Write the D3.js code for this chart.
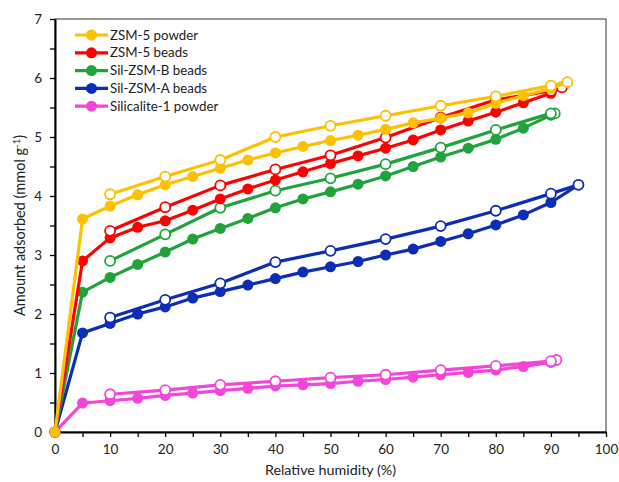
<!DOCTYPE html>
<html>
<head>
<meta charset="utf-8">
<script src="https://cdn.jsdelivr.net/npm/d3@7"></script>
<style>
  body { margin: 0; background: #fff; }
  text { font-family: Lato, "Open Sans", sans-serif; fill: #222; }
</style>
</head>
<body>
<div id="chart"></div>
<script>
// relative humidity (%) for each curve
const adsRH = [0, 5, 10, 15, 20, 25, 30, 35, 40, 45, 50, 55, 60, 65, 70, 75, 80, 85, 90];
const desRH = [90, 80, 70, 60, 50, 40, 30, 20, 10];

// adsorption branches (filled markers)
const zsmPowderAds = [0, 3.61, 3.83, 4.02, 4.19, 4.33, 4.47, 4.61, 4.73, 4.84, 4.94, 5.03, 5.13, 5.24, 5.32, 5.41, 5.57, 5.70, 5.82];
const zsmBeadsAds  = [0, 2.90, 3.29, 3.47, 3.58, 3.76, 3.95, 4.12, 4.27, 4.41, 4.55, 4.68, 4.81, 4.95, 5.12, 5.27, 5.42, 5.58, 5.74];
const silBAds      = [0, 2.37, 2.62, 2.84, 3.05, 3.27, 3.45, 3.62, 3.80, 3.95, 4.07, 4.20, 4.34, 4.50, 4.66, 4.81, 4.96, 5.15, 5.37];
const silAAds      = [0, 1.68, 1.84, 2.00, 2.12, 2.27, 2.38, 2.49, 2.60, 2.71, 2.80, 2.89, 3.00, 3.10, 3.23, 3.36, 3.51, 3.68, 3.89];
const silicaliteAds= [0, 0.49, 0.53, 0.57, 0.62, 0.66, 0.70, 0.74, 0.78, 0.80, 0.82, 0.86, 0.89, 0.93, 0.97, 1.01, 1.05, 1.11, 1.18];

// top point where adsorption turns into desorption
const topRH  = [93, 92, 90.7, 95, 91];
const topVal = [5.93, 5.84, 5.40, 4.19, 1.22];

// desorption branches (open markers)
const zsmPowderDes = [5.87, 5.69, 5.53, 5.36, 5.19, 5.00, 4.61, 4.33, 4.03];
const zsmBeadsDes  = [5.78, 5.63, 5.33, 4.99, 4.69, 4.45, 4.18, 3.81, 3.41];
const silBDes      = [5.40, 5.12, 4.82, 4.54, 4.30, 4.09, 3.80, 3.35, 2.90];
const silADes      = [4.04, 3.75, 3.49, 3.27, 3.07, 2.88, 2.52, 2.24, 1.94];
const silicaliteDes= [1.20, 1.12, 1.05, 0.97, 0.92, 0.86, 0.80, 0.71, 0.64];

const seriesNames = ["ZSM-5 powder", "ZSM-5 beads", "Sil-ZSM-B beads", "Sil-ZSM-A beads", "Silicalite-1 powder"];
const colors = ["#FFC000", "#FF0000", "#1FA33A", "#0C2DB4", "#F545D8"];
const adsData = [zsmPowderAds, zsmBeadsAds, silBAds, silAAds, silicaliteAds];
const desData = [zsmPowderDes, zsmBeadsDes, silBDes, silADes, silicaliteDes];

const xTicks = d3.range(0, 101, 10);
const yTicks = d3.range(0, 8, 1);

const width = 619, height = 482;
const margin = { left: 55, right: 13, top: 19, bottom: 50 };

const svg = d3.select("#chart").append("svg")
    .attr("width", width)
    .attr("height", height);

const x = d3.scaleLinear().domain([0, 100]).range([margin.left, width - margin.right]);
const y = d3.scaleLinear().domain([0, 7]).range([height - margin.bottom, margin.top]);

// plot frame (top/right)
svg.append("rect")
    .attr("x", x(0)).attr("y", y(7))
    .attr("width", x(100) - x(0)).attr("height", y(0) - y(7))
    .attr("fill", "none").attr("stroke", "#333").attr("stroke-width", 1);

// minor ticks
svg.append("g")
    .attr("transform", `translate(0,${y(0)})`)
    .call(d3.axisBottom(x).tickValues(d3.range(5, 100, 10)).tickSize(5).tickFormat(""))
    .call(g => g.select(".domain").remove())
    .selectAll("line").attr("stroke", "#000").attr("stroke-width", 1.3);
svg.append("g")
    .attr("transform", `translate(${x(0)},0)`)
    .call(d3.axisLeft(y).tickValues(d3.range(0.5, 7, 1)).tickSize(5).tickFormat(""))
    .call(g => g.select(".domain").remove())
    .selectAll("line").attr("stroke", "#000").attr("stroke-width", 1.3);

// axes
const xAxis = svg.append("g")
    .attr("transform", `translate(0,${y(0)})`)
    .call(d3.axisBottom(x).tickValues(xTicks).tickSize(5).tickSizeOuter(0).tickPadding(7));
const yAxis = svg.append("g")
    .attr("transform", `translate(${x(0)},0)`)
    .call(d3.axisLeft(y).tickValues(yTicks).tickFormat(d3.format("d")).tickSize(5).tickSizeOuter(0).tickPadding(8));

[xAxis, yAxis].forEach(a => {
    a.select(".domain").attr("stroke", "#000").attr("stroke-width", 2);
    a.selectAll(".tick line").attr("stroke", "#000").attr("stroke-width", 1.3);
    a.selectAll(".tick text").attr("font-size", "13.5px").attr("font-family", "Lato, sans-serif").attr("fill", "#222");
});

// axis titles
svg.append("text")
    .attr("x", (x(0) + x(100)) / 2)
    .attr("y", 475)
    .attr("text-anchor", "middle")
    .attr("font-size", "14.3px")
    .text("Relative humidity (%)");

const yTitle = svg.append("text")
    .attr("transform", `translate(25,${(y(0) + y(7)) / 2}) rotate(-90)`)
    .attr("text-anchor", "middle")
    .attr("font-size", "14.5px");
yTitle.append("tspan").text("Amount adsorbed (mmol g");
yTitle.append("tspan").attr("font-size", "9.5px").attr("dy", -5).text("-1");
yTitle.append("tspan").attr("dy", 5).text(")");

const line = d3.line().x(d => x(d[0])).y(d => y(d[1]));

// draw in reverse order so ZSM-5 powder stays on top
for (let i = seriesNames.length - 1; i >= 0; i--) {
    const ads = adsRH.map((r, j) => [r, adsData[i][j]]).concat([[topRH[i], topVal[i]]]);
    const des = [[topRH[i], topVal[i]]].concat(desRH.map((r, j) => [r, desData[i][j]]));
    const g = svg.append("g");

    g.append("path").datum(ads).attr("d", line)
        .attr("fill", "none").attr("stroke", colors[i]).attr("stroke-width", 3.2)
        .attr("stroke-linejoin", "round");
    g.append("path").datum(des).attr("d", line)
        .attr("fill", "none").attr("stroke", colors[i]).attr("stroke-width", 3.2)
        .attr("stroke-linejoin", "round");

    g.selectAll(".ads").data(ads.slice(0, -1)).enter().append("circle")
        .attr("cx", d => x(d[0])).attr("cy", d => y(d[1])).attr("r", 5.5)
        .attr("fill", colors[i]);
    g.selectAll(".des").data(des).enter().append("circle")
        .attr("cx", d => x(d[0])).attr("cy", d => y(d[1])).attr("r", 5)
        .attr("fill", "#fff").attr("stroke", colors[i]).attr("stroke-width", 1.8);
}

// legend
const legend = svg.append("g");
seriesNames.forEach((name, i) => {
    const ly = 35 + i * 17.8;
    legend.append("line")
        .attr("x1", 75).attr("x2", 108).attr("y1", ly).attr("y2", ly)
        .attr("stroke", colors[i]).attr("stroke-width", 3.2);
    legend.append("circle")
        .attr("cx", 91.5).attr("cy", ly).attr("r", 5.5).attr("fill", colors[i]);
    legend.append("text")
        .attr("x", 110).attr("y", ly + 4.5)
        .attr("font-size", "13.3px")
        .text(name);
});
</script>
</body>
</html>
